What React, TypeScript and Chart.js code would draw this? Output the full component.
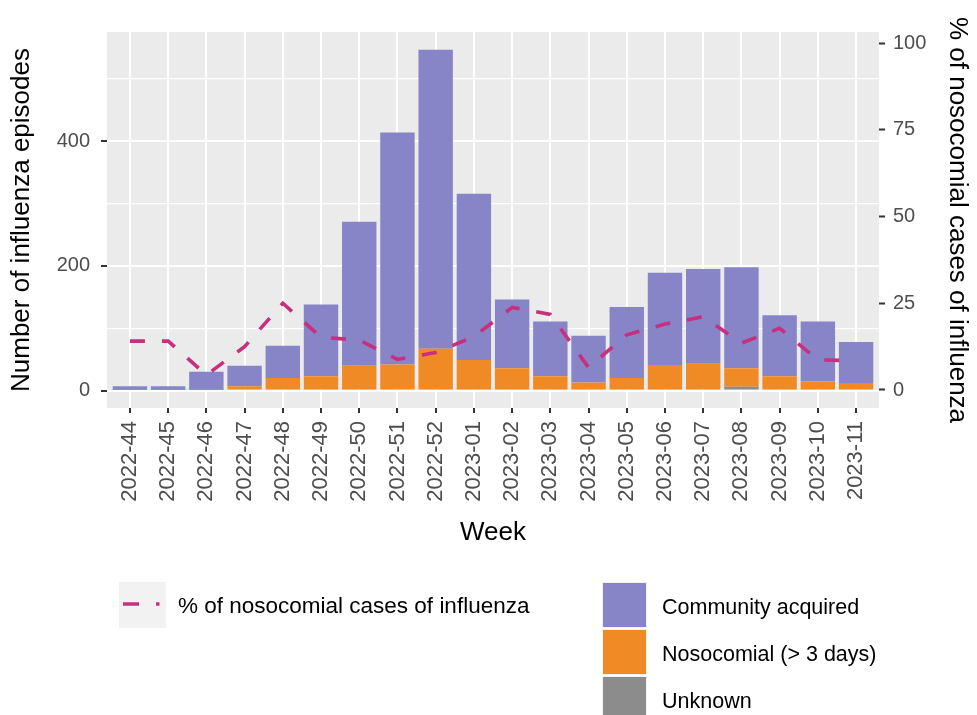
import React, { useEffect, useRef } from 'react';
import { Chart, registerables } from 'chart.js';

Chart.register(...registerables);

const WEEKS = [
  '2022-44', '2022-45', '2022-46', '2022-47', '2022-48', '2022-49', '2022-50',
  '2022-51', '2022-52', '2023-01', '2023-02', '2023-03', '2023-04', '2023-05',
  '2023-06', '2023-07', '2023-08', '2023-09', '2023-10', '2023-11',
];
const COMMUNITY = [6, 6, 29, 33, 52, 115, 231, 372, 480, 267, 110, 88, 75, 114, 148, 152, 162, 98, 96, 66];
const NOSOCOMIAL = [1, 1, 1, 7, 20, 23, 40, 40, 65, 49, 36, 23, 11, 20, 39, 43, 30, 23, 13, 10];
const UNKNOWN = [0, 0, 0, 0, 0, 0, 0, 2, 2, 0, 0, 0, 2, 0, 2, 0, 6, 0, 2, 2];
const PCT_NOSOCOMIAL = [14.1, 14.1, 4.3, 12.5, 25, 15.2, 14.4, 8.8, 10.8, 15.4, 23.8, 21.8, 6.5, 15.9, 19, 21.1, 13.5, 17.8, 8.7, 8.4];

const Y_TICKS = [0, 100, 200, 300, 400, 500];
const Y_LABELLED = [0, 200, 400];
const Y1_TICKS = [0, 25, 50, 75, 100];

const LINE_LABEL = '% of nosocomial cases of influenza';
const BAR_LABELS = ['Community acquired', 'Nosocomial (> 3 days)', 'Unknown'];

const FONT = '"Liberation Sans", Arial, Helvetica, sans-serif';
const C_COMMUNITY = '#8784C7';
const C_NOSO = '#F08A24';
const C_UNKNOWN = '#8C8C8C';
const C_LINE = '#C7307F';
const C_PANEL = '#EBEBEB';
const C_TICKTEXT = '#4D4D4D';
const C_TICKMARK = '#333333';

const panelBg = {
  id: 'panelBg',
  beforeDraw(chart: any) {
    const { ctx, chartArea: a } = chart;
    ctx.save();
    ctx.fillStyle = C_PANEL;
    ctx.fillRect(a.left, a.top, a.right - a.left, a.bottom - a.top);
    ctx.restore();
  },
};

const customLegend = {
  id: 'customLegend',
  afterDraw(chart: any) {
    const ctx = chart.ctx;
    ctx.save();
    // line key
    ctx.fillStyle = '#F2F2F2';
    ctx.fillRect(119, 582, 47, 46);
    ctx.strokeStyle = C_LINE;
    ctx.lineWidth = 3.5;
    ctx.lineCap = 'butt';
    ctx.setLineDash([16, 17]);
    ctx.beginPath();
    ctx.moveTo(123, 604);
    ctx.lineTo(159.5, 604);
    ctx.stroke();
    ctx.setLineDash([]);

    ctx.fillStyle = '#000000';
    ctx.textBaseline = 'middle';
    ctx.textAlign = 'left';
    ctx.font = `22.5px ${FONT}`;
    ctx.fillText(LINE_LABEL, 178, 607);

    // bar keys
    ctx.font = `21.5px ${FONT}`;
    const colors = [C_COMMUNITY, C_NOSO, C_UNKNOWN];
    const tops = [582, 629, 676];
    for (let i = 0; i < 3; i++) {
      ctx.fillStyle = '#F2F2F2';
      ctx.fillRect(602, tops[i], 45, 46);
      ctx.fillStyle = colors[i];
      ctx.fillRect(603, tops[i] + 1, 43, 44);
      ctx.fillStyle = '#000000';
      ctx.fillText(BAR_LABELS[i], 662, tops[i] + 26);
    }
    ctx.restore();
  },
};

export default function App() {
  const ref = useRef<HTMLCanvasElement | null>(null);

  useEffect(() => {
    if (!ref.current) return;
    const xy = (arr: number[]) => arr.map((v, i) => ({ x: i, y: v }));
    const chart = new Chart(ref.current, {
      type: 'bar',
      data: {
        datasets: [
          {
            type: 'line',
            label: LINE_LABEL,
            data: xy(PCT_NOSOCOMIAL),
            yAxisID: 'y1',
            borderColor: C_LINE,
            borderWidth: 3.6,
            borderDash: [15, 17],
            borderCapStyle: 'butt',
            pointRadius: 0,
            fill: false,
            tension: 0,
          } as any,
          {
            label: BAR_LABELS[2],
            data: xy(UNKNOWN),
            backgroundColor: C_UNKNOWN,
            yAxisID: 'y',
            categoryPercentage: 1,
            barPercentage: 0.9,
          },
          {
            label: BAR_LABELS[1],
            data: xy(NOSOCOMIAL),
            backgroundColor: C_NOSO,
            yAxisID: 'y',
            categoryPercentage: 1,
            barPercentage: 0.9,
          },
          {
            label: BAR_LABELS[0],
            data: xy(COMMUNITY),
            backgroundColor: C_COMMUNITY,
            yAxisID: 'y',
            categoryPercentage: 1,
            barPercentage: 0.9,
          },
        ],
      },
      options: {
        responsive: false,
        animation: false,
        devicePixelRatio: 1,
        layout: { padding: { left: 0, top: 32, right: 0, bottom: 163 } },
        plugins: { legend: { display: false }, tooltip: { enabled: false } },
        scales: {
          x: {
            type: 'linear',
            stacked: true,
            offset: false,
            min: -0.6,
            max: 19.6,
            afterBuildTicks: (s: any) => {
              s.ticks = WEEKS.map((_, i) => ({ value: i }));
            },
            afterFit: (s: any) => {
              s.height = 144;
            },
            border: { display: false },
            grid: {
              offset: false,
              color: '#FFFFFF',
              lineWidth: 2,
              tickLength: 5,
              tickColor: C_TICKMARK,
              tickWidth: 2,
            },
            ticks: {
              color: C_TICKTEXT,
              font: { family: FONT, size: 22 },
              autoSkip: false,
              maxRotation: 90,
              minRotation: 90,
              padding: 8,
              callback: (v: any) => WEEKS[v as number] ?? '',
            },
            title: {
              display: true,
              text: 'Week',
              color: '#000000',
              font: { family: FONT, size: 26 },
              padding: { top: 4, bottom: 4 },
            },
          } as any,
          y: {
            stacked: true,
            min: -28,
            max: 575.5,
            afterBuildTicks: (s: any) => {
              s.ticks = Y_TICKS.map((v) => ({ value: v }));
            },
            afterFit: (s: any) => {
              s.width = 107;
            },
            border: { display: false },
            grid: {
              color: '#FFFFFF',
              lineWidth: (c: any) => (c.tick && Y_LABELLED.includes(c.tick.value) ? 2 : 1.2),
              tickLength: 6,
              tickColor: (c: any) => (c.tick && Y_LABELLED.includes(c.tick.value) ? C_TICKMARK : 'rgba(0,0,0,0)'),
              tickWidth: 2,
            },
            ticks: {
              color: C_TICKTEXT,
              font: { family: FONT, size: 20 },
              padding: 11,
              callback: (v: any) => (Y_LABELLED.includes(v as number) ? String(v) : ''),
            },
            title: {
              display: true,
              text: 'Number of influenza episodes',
              color: '#000000',
              font: { family: FONT, size: 26 },
              padding: { top: 6, bottom: 0 },
            },
          } as any,
          y1: {
            position: 'right',
            min: -5.19,
            max: 103.2,
            afterBuildTicks: (s: any) => {
              s.ticks = Y1_TICKS.map((v) => ({ value: v }));
            },
            afterFit: (s: any) => {
              s.width = 98;
            },
            border: { display: false },
            grid: {
              drawOnChartArea: false,
              tickLength: 6,
              tickColor: C_TICKMARK,
              tickWidth: 2,
            },
            ticks: {
              color: C_TICKTEXT,
              font: { family: FONT, size: 20 },
              padding: 8,
            },
            title: {
              display: true,
              text: LINE_LABEL,
              color: '#000000',
              font: { family: FONT, size: 26 },
              padding: { top: 4, bottom: 0 },
            },
          } as any,
        },
      },
      plugins: [panelBg, customLegend],
    });
    return () => chart.destroy();
  }, []);

  return (
    <div style={{ position: 'fixed', left: 0, top: 0, width: 977, height: 715, background: '#FFFFFF' }}>
      <canvas ref={ref} width={977} height={715} style={{ display: 'block' }} />
    </div>
  );
}
